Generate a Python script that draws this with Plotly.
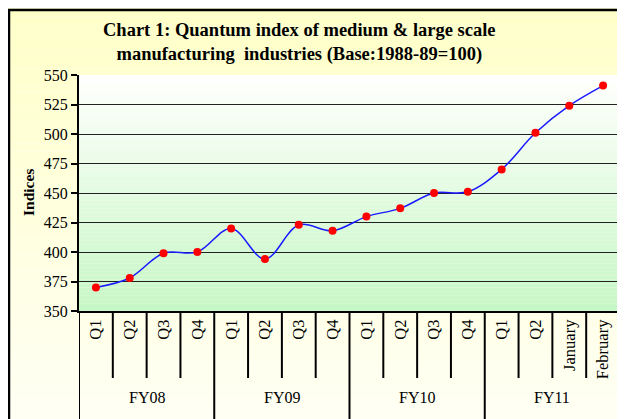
import plotly.graph_objects as go

# ---- data ----
periods = ["Q1", "Q2", "Q3", "Q4", "Q1", "Q2", "Q3", "Q4",
           "Q1", "Q2", "Q3", "Q4", "Q1", "Q2", "January", "February"]
fiscal_years = ["FY08", "FY09", "FY10", "FY11"]
periods_per_year = [4, 4, 4, 4]
indices = [370, 378, 399, 400, 420, 394, 423, 418,
           430, 437, 450, 451, 470, 501, 524, 541]
y_ticks = [350, 375, 400, 425, 450, 475, 500, 525, 550]

# page body adds an 8px margin; lay out in reference pixels and shift
OFF = 8
RW, RH = 625, 419
W, H = RW - OFF, RH - OFF
PL, PR, PT, PB = 79, 620, 75, 311   # plot box in reference pixels
ML, MR, MT, MB = PL - OFF, RW - PR, PT - OFF, RH - PB
PW = PR - PL
PH = PB - PT

def px2paper_x(px):
    return (px - PL) / PW

def py2paper_y(py):
    return (PB - py) / PH

x_pos = list(range(len(indices)))

fig = go.Figure()
fig.add_trace(go.Scatter(
    x=x_pos, y=indices, mode="lines+markers",
    line=dict(color="#1a1aff", width=1.5, shape="spline", smoothing=1.0),
    marker=dict(color="#ff0000", size=8),
    hoverinfo="y", showlegend=False,
))

shapes = []

def lerp(c1, c2, t):
    return "rgb(%d,%d,%d)" % tuple(round(a + (b - a) * t) for a, b in zip(c1, c2))

# outer (paper) gradient: light yellow top -> near white bottom
n = 50
top_y = py2paper_y(0)
bot_y = py2paper_y(RH + 2)
for i in range(n):
    y0 = top_y + (bot_y - top_y) * i / n
    y1 = top_y + (bot_y - top_y) * (i + 1) / n
    shapes.append(dict(type="rect", xref="paper", yref="paper",
                       x0=px2paper_x(0), x1=px2paper_x(RW + 2), y0=y0, y1=y1,
                       fillcolor=lerp((255, 255, 200), (255, 255, 244), i / (n - 1)),
                       line=dict(width=0), layer="below"))
# plot-area gradient: white top -> light green bottom
n = 60
for i in range(n):
    y0 = 1 - i / n
    y1 = 1 - (i + 1) / n
    shapes.append(dict(type="rect", xref="paper", yref="paper",
                       x0=0, x1=1, y0=y0, y1=y1,
                       fillcolor=lerp((255, 255, 255), (198, 247, 198), i / (n - 1)),
                       line=dict(width=0), layer="below"))

# category dividers below the axis
inner_bottom = py2paper_y(378)
outer_bottom = py2paper_y(RH + 5)
boundaries = [0]
for k in periods_per_year:
    boundaries.append(boundaries[-1] + k)
group_edges = set(boundaries)
for b in range(len(periods) + 1):
    yb = outer_bottom if b in group_edges else inner_bottom
    shapes.append(dict(type="line", xref="x", yref="paper",
                       x0=b - 0.5, x1=b - 0.5, y0=0, y1=yb,
                       line=dict(color="black", width=2), layer="above"))

# outer border of chart
shapes.append(dict(type="line", xref="paper", yref="paper",
                   x0=px2paper_x(8), x1=px2paper_x(RW + 5),
                   y0=py2paper_y(10), y1=py2paper_y(10),
                   line=dict(color="black", width=2.5), layer="above"))
shapes.append(dict(type="line", xref="paper", yref="paper",
                   x0=px2paper_x(9), x1=px2paper_x(9),
                   y0=py2paper_y(10), y1=py2paper_y(RH + 5),
                   line=dict(color="black", width=2.5), layer="above"))

annotations = []
for fy, a, b in zip(fiscal_years, boundaries[:-1], boundaries[1:]):
    annotations.append(dict(x=(a + b - 1) / 2, y=py2paper_y(397), xref="x", yref="paper",
                            text=fy, showarrow=False, xanchor="center", yanchor="middle",
                            font=dict(family="Liberation Serif", size=16, color="black")))
annotations.append(dict(x=px2paper_x(28), y=py2paper_y(193), xref="paper", yref="paper",
                        text="<b>Indices</b>", textangle=-90, showarrow=False,
                        xanchor="center", yanchor="middle",
                        font=dict(family="Liberation Serif", size=15.5, color="black")))
annotations.append(dict(x=px2paper_x(299), y=py2paper_y(43), xref="paper", yref="paper",
                        text="<b>Chart 1: Quantum index of medium &amp; large scale<br>"
                             "manufacturing  industries (Base:1988-89=100)</b>",
                        showarrow=False, align="center", xanchor="center", yanchor="middle",
                        font=dict(family="Liberation Serif", size=18.5, color="black")))

fig.update_layout(
    width=W, height=H,
    margin=dict(l=ML, r=MR, t=MT, b=MB),
    paper_bgcolor="#fffff4",
    plot_bgcolor="rgba(0,0,0,0)",
    shapes=shapes,
    annotations=annotations,
    font=dict(family="Liberation Serif", color="black"),
    xaxis=dict(range=[-0.5, len(periods) - 0.5], tickvals=x_pos, ticktext=periods,
               tickangle=-90, ticks="", showgrid=False, zeroline=False,
               showline=True, linecolor="black", linewidth=2,
               tickfont=dict(family="Liberation Serif", size=16.5, color="black")),
    yaxis=dict(range=[350, 550], tickvals=y_ticks, ticks="outside", ticklen=6,
               tickcolor="black", tickwidth=2,
               showline=True, linecolor="black", linewidth=2,
               showgrid=True, gridcolor="#222222", gridwidth=1.3, zeroline=False,
               tickfont=dict(family="Liberation Serif", size=16, color="black")),
)

fig.write_html("out.html")
